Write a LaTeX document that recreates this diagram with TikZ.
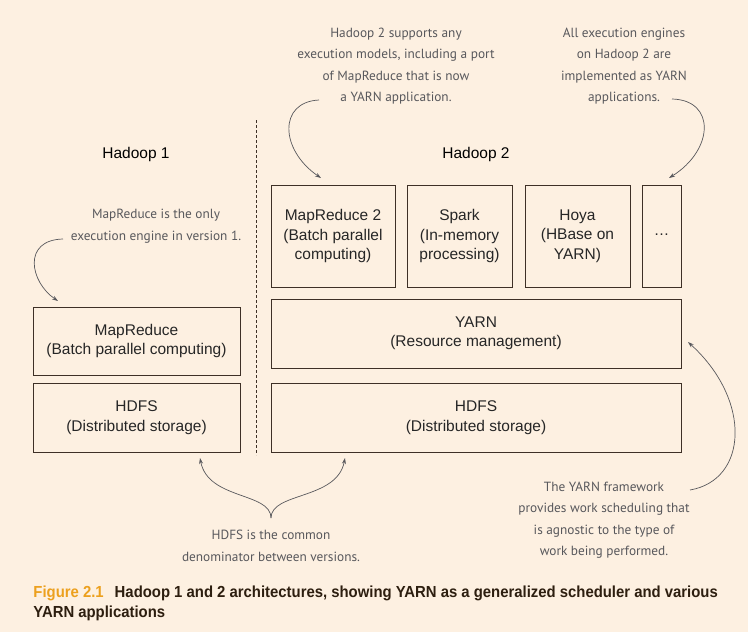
\documentclass[tikz,border=0pt]{standalone}
\usepackage{fontspec}
\setmainfont{Liberation Sans}
\newfontfamily\notefont{PT Sans}
\newfontfamily\capfont[FakeStretch=0.93]{Liberation Sans}
\usetikzlibrary{arrows.meta,positioning}
\definecolor{paper}{RGB}{253,240,225}
\definecolor{boxline}{RGB}{62,48,38}
\definecolor{notegray}{RGB}{88,88,92}
\definecolor{figgold}{RGB}{236,160,30}
\definecolor{capbrown}{RGB}{45,30,15}

\begin{document}
\begin{tikzpicture} [x=1pt,y=-1pt,line width=0.9pt, font=\fontsize{15.5}{19.5}\selectfont,
  tier/.style={draw=boxline, fill=paper, text=black!85, align=center, inner sep=0pt},
  remark/.style={text=notegray, font=\notefont\fontsize{13.3}{21.5}\selectfont, align=center},
  hint/.style={draw=notegray, line width=0.7pt, -{Stealth[length=6pt,width=4pt]}}]

  % page
  \fill[paper] (0,0) rectangle (748,632);
  \useasboundingbox (0,0) rectangle (748,632);

  % Hadoop 1 stack
  \node[tier, minimum width=207pt, minimum height=68pt] (mr1) at (136.5,341) {MapReduce\\(Batch parallel computing)};
  \node[tier, minimum width=207pt, minimum height=69pt] (hdfs1) at (136.5,417.5) {HDFS\\(Distributed storage)};

  % Hadoop 2 stack
  \node[tier, minimum width=124pt, minimum height=102pt] (mr2) at (333,236) {MapReduce 2\\(Batch parallel\\computing)};
  \node[tier, minimum width=105pt, minimum height=102pt] (spark) at (459.5,236) {Spark\\(In-memory\\processing)};
  \node[tier, minimum width=105pt, minimum height=102pt] (hoya) at (577.5,236) {Hoya\\(HBase on\\YARN)};
  \node[tier, minimum width=39pt, minimum height=102pt] (more) at (661.5,236) {\raisebox{3pt}{…}};
  \node[tier, minimum width=410pt, minimum height=69pt] (yarn) at (476,333.5) {YARN\\(Resource management)};
  \node[tier, minimum width=410pt, minimum height=69pt] (hdfs2) at (476,417.5) {HDFS\\(Distributed storage)};

  \node (h1) at (136,154) {Hadoop 1};
  \node (h2) at (476,154) {Hadoop 2};

  % divider
  \coordinate (divtop) at (256,120);
  \coordinate (divbot) at (256,455);
  \draw[boxline, line width=0.7pt, dash pattern=on 3pt off 2pt] (divtop) -- (divbot);

  % notes
  \node[remark] (n1) at (396,66) {Hadoop 2 supports any\\execution models, including a port\\of MapReduce that is now\\a YARN application.};
  \node[remark] (n2) at (624,66) {All execution engines\\on Hadoop 2 are\\implemented as YARN\\applications.};
  \node[remark] (n3) at (156,226) {MapReduce is the only\\execution engine in version 1.};
  \node[remark] (n4) at (271,546) {HDFS is the common\\denominator between versions.};
  \node[remark] (n5) at (604,520) {The YARN framework\\provides work scheduling that\\is agnostic to the type of\\work being performed.};

  \coordinate (a1s) at (319,100);  \coordinate (a1e) at (321,178);
  \coordinate (a2s) at (672,99);   \coordinate (a2e) at (669,178);
  \coordinate (a3s) at (63,239);   \coordinate (a3e) at (58,301);
  \coordinate (a4s) at (690,490);  \coordinate (a4e) at (688,342);
  \coordinate (a5s) at (271,518);
  \coordinate (a5l) at (200,458);  \coordinate (a5r) at (345,458);

  \draw[hint] (a1s) .. controls (278,102) and (280,150) .. (a1e);
  \draw[hint] (a2s) .. controls (716,100) and (714,150) .. (a2e);
  \draw[hint] (a3s) .. controls (22,240) and (30,282) .. (a3e);
  \draw[hint] (a4s) .. controls (748,480) and (752,400) .. (a4e);
  \draw[hint] (a5s) .. controls (271,492) and (208,500) .. (a5l);
  \draw[hint] (a5s) .. controls (271,492) and (337,500) .. (a5r);

  % caption
  \node[anchor=north west, inner sep=0pt, align=left, text=capbrown,
        font=\capfont\bfseries\fontsize{16}{20.5}\selectfont] (cap) at (33,585)
    {\textcolor{figgold}{Figure 2.1}\hspace{11pt}Hadoop 1 and 2 architectures, showing YARN as a generalized scheduler and various\\YARN applications};

\end{tikzpicture}
\end{document}
